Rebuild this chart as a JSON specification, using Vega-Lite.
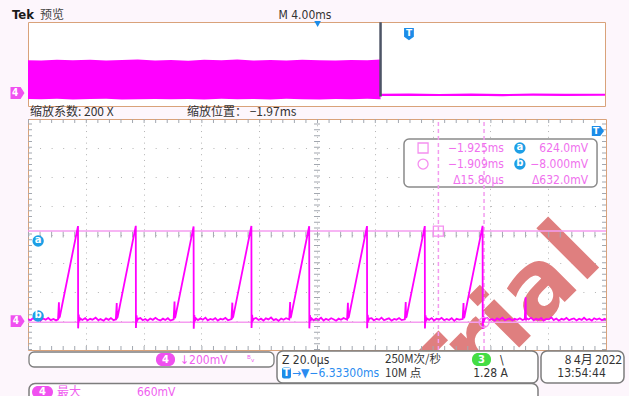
{
"$schema": "https://vega.github.io/schema/vega-lite/v6.json",
"autosize": {"type": "none"},
"padding": {"left": 28, "top": 22, "right": 601, "bottom": 374},
"background": "#fdf6fc",
"bounds": "flush",
"spacing": 13,
"config": {
  "axis": {"domain": false, "ticks": false, "labels": false, "title": null, "grid": false},
  "font": "Liberation Sans Narrow, DejaVu Sans Condensed, sans-serif"
},
"vconcat": [
{
  "width": 577, "height": 84,
  "view": {"fill": "white", "stroke": "#d9a27a", "strokeWidth": 1},
  "encoding": {
    "x": {"field": "t", "type": "quantitative", "scale": {"domain": [-26.41, 13.59], "nice": false, "zero": false}},
    "y": {"field": "v", "type": "quantitative", "scale": {"domain": [-200, 1400], "nice": false, "zero": false}}
  },
  "layer": [
    {"data": {"values": [
      {"t":-26.41,"v":672,"v2":-66},{"t":-25.5,"v":668,"v2":-72},{"t":-24.4,"v":679,"v2":-64},{"t":-23.3,"v":670,"v2":-75},
      {"t":-22.1,"v":683,"v2":-68},{"t":-21.0,"v":666,"v2":-62},{"t":-19.9,"v":675,"v2":-78},{"t":-18.8,"v":688,"v2":-70},
      {"t":-17.6,"v":669,"v2":-65},{"t":-16.5,"v":677,"v2":-73},{"t":-15.3,"v":664,"v2":-69},{"t":-14.2,"v":680,"v2":-76},
      {"t":-13.0,"v":671,"v2":-63},{"t":-11.9,"v":685,"v2":-71},{"t":-10.8,"v":667,"v2":-67},{"t":-9.6,"v":676,"v2":-74},
      {"t":-8.5,"v":669,"v2":-61},{"t":-7.4,"v":681,"v2":-70},{"t":-6.2,"v":672,"v2":-77},{"t":-5.1,"v":665,"v2":-66},
      {"t":-4.0,"v":678,"v2":-72},{"t":-2.9,"v":670,"v2":-64},{"t":-1.97,"v":684,"v2":-70}]},
     "mark": {"type": "area", "color": "#ff00ff", "opacity": 1},
     "encoding": {"y2": {"field": "v2"}}},
    {"data": {"values": [
      {"t":-1.97,"v":12},{"t":0.0,"v":18},{"t":2.1,"v":10},{"t":4.3,"v":16},{"t":6.5,"v":8},{"t":8.6,"v":15},{"t":10.8,"v":11},{"t":13.59,"v":14}]},
     "mark": {"type": "line", "color": "#ff00ff", "strokeWidth": 2.2}},
    {"data": {"values": [{"t": -1.97, "v": 1395, "v2": -20}]},
     "mark": {"type": "rule", "color": "#4d5566", "strokeWidth": 2.5},
     "encoding": {"y2": {"field": "v2"}}},
    {"data": {"values": [{"t": 0, "v": 1171}]},
     "mark": {"type": "point", "shape": "M -0.8 -1 L 0.8 -1 L 0.8 0.45 L 0 1 L -0.8 0.45 Z", "filled": true, "color": "#1c8ce8", "size": 150, "opacity": 1}},
    {"data": {"values": [{"t": 0, "v": 1190, "label": "T"}]},
     "mark": {"type": "text", "color": "white", "fontSize": 9, "fontWeight": "bold", "font": "DejaVu Sans"},
     "encoding": {"text": {"field": "label"}}},
    {"data": {"values": [{"t": -6.333, "v": 1362}]},
     "mark": {"type": "point", "shape": "triangle-down", "filled": true, "color": "#1c8ce8", "size": 45, "opacity": 1}},
    {"data": {"values": [{"t": -27.14, "v": 48}]},
     "mark": {"type": "point", "shape": "M -1 -0.85 L 0.45 -0.85 L 1 0 L 0.45 0.85 L -1 0.85 Z", "filled": true, "color": "#f050f0", "size": 196, "opacity": 1}},
    {"data": {"values": [{"t": -27.3, "v": 48, "label": "4"}]},
     "mark": {"type": "text", "color": "white", "fontSize": 10, "fontWeight": "bold"},
     "encoding": {"text": {"field": "label"}}},
    {"data": {"values": [{"t": -27.52, "v": 1530, "label": "Tek"}]},
     "mark": {"type": "text", "align": "left", "baseline": "middle", "color": "#1a1a1a", "fontSize": 13, "fontWeight": "bold"},
     "encoding": {"text": {"field": "label"}}},
    {"data": {"values": [{"t": -25.58, "v": 1530, "label": "预览"}]},
     "mark": {"type": "text", "align": "left", "baseline": "middle", "color": "#444444", "fontSize": 12, "font": "Noto Sans CJK SC"},
     "encoding": {"text": {"field": "label"}}},
    {"data": {"values": [{"t": -7.21, "v": 1539, "label": "M 4.00ms"}]},
     "mark": {"type": "text", "align": "center", "baseline": "middle", "color": "#333333", "fontSize": 12},
     "encoding": {"text": {"field": "label"}}},
    {"data": {"values": [{"t": -26.27, "v": -314, "label": "缩放系数: 200 X"}, {"t": -15.39, "v": -314, "label": "缩放位置： −1.97ms"}]},
     "mark": {"type": "text", "align": "left", "baseline": "middle", "color": "#333333", "fontSize": 12, "font": "Noto Sans CJK SC"},
     "encoding": {"text": {"field": "label"}}}
  ]
},
{
  "vconcat": [
  {
    "width": 578, "height": 231,
    "view": {"fill": "white", "stroke": "#d9a27a", "strokeWidth": 1},
    "encoding": {
      "x": {"field": "t", "type": "quantitative", "scale": {"domain": [-2067, -1867], "nice": false, "zero": false},
            "axis": {"grid": true, "values": [-2047,-2027,-2007,-1987,-1967,-1947,-1927,-1907,-1887], "gridDash": [1, 4.78], "gridColor": "#b4b4b4", "gridWidth": 1}},
      "y": {"field": "v", "type": "quantitative", "scale": {"domain": [-200, 1400], "nice": false, "zero": false},
            "axis": {"grid": true, "values": [0,200,400,600,800,1000,1200], "gridDash": [1, 10.56], "gridColor": "#b4b4b4", "gridWidth": 1}}
    },
    "layer": [
      {"data": {"values": [{"t": -1867.4, "v": 410, "label": "Trial"}]},
       "mark": {"type": "text", "align": "right", "baseline": "alphabetic", "angle": 315, "fontSize": 95, "fontWeight": "bold", "font": "DejaVu Sans", "color": "#df7f7f", "clip": true},
       "encoding": {"text": {"field": "label"}}},
      {"data": {"values": [{"t": -1967, "v": -200, "v2": 1400}]},
       "mark": {"type": "rule", "color": "#a3a8b0", "strokeWidth": 6, "strokeDash": [1, 4.78]},
       "encoding": {"y2": {"field": "v2"}}},
      {"data": {"values": [{"t": -2067, "v": -200, "v2": 1400}, {"t": -1867, "v": -200, "v2": 1400}]},
       "mark": {"type": "rule", "color": "#a3a8b0", "strokeWidth": 8, "strokeDash": [1, 4.78], "clip": true},
       "encoding": {"y2": {"field": "v2"}}},
      {"data": {"values": [{"t": -2067, "t2": -1867, "v": 600}]},
       "mark": {"type": "rule", "color": "#a3a8b0", "strokeWidth": 6, "strokeDash": [1, 10.56]},
       "encoding": {"x2": {"field": "t2"}}},
      {"data": {"values": [{"t": -2067, "t2": -1867, "v": 1400}, {"t": -2067, "t2": -1867, "v": -200}]},
       "mark": {"type": "rule", "color": "#a3a8b0", "strokeWidth": 8, "strokeDash": [1, 10.56], "clip": true},
       "encoding": {"x2": {"field": "t2"}}},
      {"data": {"values": [{"t": -2067, "t2": -1867, "v": 624}, {"t": -2067, "t2": -1867, "v": -8}]},
       "mark": {"type": "rule", "color": "#f59cf0", "strokeWidth": 1.5},
       "encoding": {"x2": {"field": "t2"}}},
      {"data": {"values": [{"t": -1936.9, "t2": -1870.1, "v": 1261, "v2": 929}]},
       "mark": {"type": "rect", "fill": "white", "stroke": "#8a8a8a", "strokeWidth": 1.5, "cornerRadius": 5},
       "encoding": {"x2": {"field": "t2"}, "y2": {"field": "v2"}}},
      {"data": {"values": [{"t": -1925, "v": -200, "v2": 1400}, {"t": -1909.2, "v": -200, "v2": 1400}]},
       "mark": {"type": "rule", "color": "#f39cef", "strokeWidth": 1.5, "strokeDash": [4, 3]},
       "encoding": {"y2": {"field": "v2"}}},
      {"data": {"values": [
        {"t":-2067.0,"v":14},{"t":-2066.2,"v":6},{"t":-2065.3,"v":20},{"t":-2064.4,"v":9},{"t":-2063.5,"v":16},{"t":-2062.7,"v":4},{"t":-2061.8,"v":18},{"t":-2060.9,"v":10},{"t":-2060.0,"v":22},{"t":-2059.1,"v":7},{"t":-2058.2,"v":15},{"t":-2057.3,"v":5},{"t":-2056.6,"v":12},
        {"t":-2056.3,"v":130},{"t":-2056.2,"v":25},{"t":-2056.0,"v":30},{"t":-2049.7,"v":658},{"t":-2049.65,"v":-50},{"t":-2049.45,"v":45},{"t":-2049.25,"v":0},{"t":-2048.9,"v":18},
        {"t":-2048.2,"v":8},{"t":-2047.2,"v":20},{"t":-2046.4,"v":5},{"t":-2045.5,"v":16},{"t":-2044.7,"v":10},{"t":-2043.6,"v":24},{"t":-2042.7,"v":6},{"t":-2041.9,"v":14},{"t":-2040.8,"v":3},{"t":-2040.0,"v":19},{"t":-2039.1,"v":9},{"t":-2038.3,"v":21},{"t":-2037.4,"v":7},{"t":-2036.6,"v":13},
        {"t":-2036.3,"v":125},{"t":-2036.2,"v":22},{"t":-2036.0,"v":28},{"t":-2029.7,"v":660},{"t":-2029.65,"v":-48},{"t":-2029.45,"v":40},{"t":-2029.25,"v":2},{"t":-2028.9,"v":16},
        {"t":-2028.1,"v":21},{"t":-2027.3,"v":6},{"t":-2026.4,"v":15},{"t":-2025.6,"v":3},{"t":-2024.7,"v":18},{"t":-2023.8,"v":9},{"t":-2022.9,"v":23},{"t":-2022.1,"v":11},{"t":-2021.2,"v":5},{"t":-2020.3,"v":17},{"t":-2019.5,"v":8},{"t":-2018.6,"v":20},{"t":-2017.7,"v":4},{"t":-2016.6,"v":12},
        {"t":-2016.3,"v":135},{"t":-2016.2,"v":20},{"t":-2016.0,"v":30},{"t":-2009.7,"v":656},{"t":-2009.65,"v":-52},{"t":-2009.45,"v":42},{"t":-2009.25,"v":0},{"t":-2008.9,"v":20},
        {"t":-2008.2,"v":7},{"t":-2007.3,"v":19},{"t":-2006.5,"v":10},{"t":-2005.6,"v":24},{"t":-2004.8,"v":5},{"t":-2003.9,"v":15},{"t":-2003.0,"v":9},{"t":-2002.2,"v":21},{"t":-2001.3,"v":4},{"t":-2000.4,"v":16},{"t":-1999.6,"v":11},{"t":-1998.7,"v":22},{"t":-1997.8,"v":6},{"t":-1996.6,"v":14},
        {"t":-1996.3,"v":128},{"t":-1996.2,"v":24},{"t":-1996.0,"v":29},{"t":-1989.7,"v":659},{"t":-1989.65,"v":-47},{"t":-1989.45,"v":44},{"t":-1989.25,"v":3},{"t":-1988.9,"v":15},
        {"t":-1988.1,"v":22},{"t":-1987.2,"v":8},{"t":-1986.4,"v":17},{"t":-1985.5,"v":4},{"t":-1984.7,"v":19},{"t":-1983.8,"v":12},{"t":-1982.9,"v":25},{"t":-1982.0,"v":7},{"t":-1981.2,"v":14},{"t":-1980.3,"v":2},{"t":-1979.4,"v":18},{"t":-1978.6,"v":9},{"t":-1977.7,"v":20},{"t":-1976.6,"v":11},
        {"t":-1976.3,"v":132},{"t":-1976.2,"v":21},{"t":-1976.0,"v":31},{"t":-1969.7,"v":657},{"t":-1969.65,"v":-50},{"t":-1969.45,"v":41},{"t":-1969.25,"v":1},{"t":-1968.9,"v":19},
        {"t":-1968.2,"v":6},{"t":-1967.3,"v":18},{"t":-1966.5,"v":10},{"t":-1965.6,"v":23},{"t":-1964.7,"v":4},{"t":-1963.9,"v":16},{"t":-1963.0,"v":8},{"t":-1962.1,"v":20},{"t":-1961.3,"v":13},{"t":-1960.4,"v":3},{"t":-1959.5,"v":17},{"t":-1958.7,"v":9},{"t":-1957.8,"v":22},{"t":-1956.6,"v":10},
        {"t":-1956.3,"v":127},{"t":-1956.2,"v":23},{"t":-1956.0,"v":28},{"t":-1949.7,"v":658},{"t":-1949.65,"v":-49},{"t":-1949.45,"v":43},{"t":-1949.25,"v":2},{"t":-1948.9,"v":17},
        {"t":-1948.1,"v":20},{"t":-1947.3,"v":5},{"t":-1946.4,"v":16},{"t":-1945.5,"v":9},{"t":-1944.7,"v":24},{"t":-1943.8,"v":6},{"t":-1942.9,"v":14},{"t":-1942.1,"v":19},{"t":-1941.2,"v":3},{"t":-1940.3,"v":15},{"t":-1939.5,"v":10},{"t":-1938.6,"v":21},{"t":-1937.7,"v":7},{"t":-1936.6,"v":13},
        {"t":-1936.3,"v":133},{"t":-1936.2,"v":22},{"t":-1936.0,"v":30},{"t":-1929.7,"v":658},{"t":-1929.65,"v":-51},{"t":-1929.45,"v":40},{"t":-1929.25,"v":0},{"t":-1928.9,"v":18},
        {"t":-1928.2,"v":9},{"t":-1927.3,"v":21},{"t":-1926.5,"v":4},{"t":-1925.6,"v":17},{"t":-1924.7,"v":11},{"t":-1923.9,"v":23},{"t":-1923.0,"v":6},{"t":-1922.1,"v":15},{"t":-1921.3,"v":8},{"t":-1920.4,"v":20},{"t":-1919.5,"v":2},{"t":-1918.7,"v":16},{"t":-1917.8,"v":10},{"t":-1916.6,"v":14},
        {"t":-1916.3,"v":126},{"t":-1916.2,"v":20},{"t":-1916.0,"v":29},{"t":-1909.7,"v":660},{"t":-1909.65,"v":-55},{"t":-1909.45,"v":38},{"t":-1909.25,"v":1},{"t":-1908.9,"v":17},
        {"t":-1908.1,"v":22},{"t":-1907.3,"v":7},{"t":-1906.4,"v":15},{"t":-1905.5,"v":4},{"t":-1904.7,"v":19},{"t":-1903.8,"v":10},{"t":-1902.9,"v":24},{"t":-1902.0,"v":6},{"t":-1901.2,"v":13},{"t":-1900.3,"v":18},{"t":-1899.4,"v":5},{"t":-1898.6,"v":16},{"t":-1897.7,"v":9},{"t":-1896.8,"v":20},{"t":-1895.9,"v":8},{"t":-1895.1,"v":14},
        {"t":-1894.8,"v":165},{"t":-1894.7,"v":5},{"t":-1894.5,"v":20},
        {"t":-1893.8,"v":11},{"t":-1892.9,"v":23},{"t":-1892.0,"v":6},{"t":-1891.2,"v":17},{"t":-1890.3,"v":9},{"t":-1889.4,"v":21},{"t":-1888.6,"v":4},{"t":-1887.7,"v":15},{"t":-1886.8,"v":12},{"t":-1885.9,"v":25},{"t":-1885.1,"v":7},{"t":-1884.2,"v":18},{"t":-1883.3,"v":3},{"t":-1882.4,"v":16},{"t":-1881.6,"v":10},{"t":-1880.7,"v":22},{"t":-1879.8,"v":6},{"t":-1878.9,"v":14},{"t":-1878.1,"v":19},{"t":-1877.2,"v":5},{"t":-1876.3,"v":17},{"t":-1875.4,"v":9},{"t":-1874.6,"v":23},{"t":-1873.7,"v":8},{"t":-1872.8,"v":15},{"t":-1871.9,"v":4},{"t":-1871.1,"v":20},{"t":-1870.2,"v":11},{"t":-1869.3,"v":18},{"t":-1868.4,"v":6},{"t":-1867.5,"v":16},{"t":-1867.0,"v":12}]},
       "mark": {"type": "line", "color": "#ff00ff", "strokeWidth": 1.8, "clip": true}},
      {"data": {"values": [{"t": -1925, "v": 624}, {"t": -1930.3, "v": 1199}]},
       "mark": {"type": "point", "shape": "square", "filled": false, "color": "#f590f0", "strokeWidth": 1.3, "size": 100, "opacity": 1}},
      {"data": {"values": [{"t": -1909.2, "v": -8}, {"t": -1930.3, "v": 1088}]},
       "mark": {"type": "point", "shape": "circle", "filled": false, "color": "#f590f0", "strokeWidth": 1.3, "size": 100, "opacity": 1}},
      {"data": {"values": [
         {"t": -1902.3, "v": 1199, "label": "−1.925ms"}, {"t": -1902.3, "v": 1088, "label": "−1.909ms"}, {"t": -1902.3, "v": 977, "label": "Δ15.80µs"},
         {"t": -1873.2, "v": 1199, "label": "624.0mV"}, {"t": -1873.2, "v": 1088, "label": "−8.000mV"}, {"t": -1873.2, "v": 977, "label": "Δ632.0mV"}]},
       "mark": {"type": "text", "align": "right", "baseline": "middle", "color": "#f070ee", "fontSize": 12},
       "encoding": {"text": {"field": "label"}}},
      {"data": {"values": [{"t": -1896.8, "v": 1199}, {"t": -1896.8, "v": 1088}, {"t": -2063.5, "v": 555}, {"t": -2063.5, "v": 35}]},
       "mark": {"type": "point", "shape": "circle", "filled": true, "color": "#1d9fe6", "size": 130, "opacity": 1}},
      {"data": {"values": [{"t": -1896.8, "v": 1205, "label": "a"}, {"t": -1896.8, "v": 1094, "label": "b"}, {"t": -2063.5, "v": 561, "label": "a"}, {"t": -2063.5, "v": 41, "label": "b"}]},
       "mark": {"type": "text", "align": "center", "baseline": "middle", "color": "white", "fontSize": 10, "fontWeight": "bold", "font": "DejaVu Sans"},
       "encoding": {"text": {"field": "label"}}},
      {"data": {"values": [{"t": -2070.6, "v": 0}]},
       "mark": {"type": "point", "shape": "M -1 -0.85 L 0.45 -0.85 L 1 0 L 0.45 0.85 L -1 0.85 Z", "filled": true, "color": "#f050f0", "size": 196, "opacity": 1}},
      {"data": {"values": [{"t": -2071.2, "v": 0, "label": "4"}]},
       "mark": {"type": "text", "color": "white", "fontSize": 10, "fontWeight": "bold"},
       "encoding": {"text": {"field": "label"}}},
      {"data": {"values": [{"t": -1869.8, "v": 1317}]},
       "mark": {"type": "point", "shape": "M -1 -0.8 L 0.4 -0.8 L 1 0 L 0.4 0.8 L -1 0.8 Z", "filled": true, "color": "#1c8ce8", "size": 150, "opacity": 1}},
      {"data": {"values": [{"t": -1870.4, "v": 1317, "label": "T"}]},
       "mark": {"type": "text", "color": "white", "fontSize": 9, "fontWeight": "bold", "font": "DejaVu Sans"},
       "encoding": {"text": {"field": "label"}}}
    ]
  },
  {
    "width": 597, "height": 45,
    "view": {"stroke": null},
    "encoding": {
      "x": {"field": "x", "type": "quantitative", "scale": {"domain": [0, 597], "nice": false, "zero": false}, "axis": null},
      "y": {"field": "y", "type": "quantitative", "scale": {"domain": [0, 45], "nice": false, "zero": false, "reverse": true}, "axis": null}
    },
    "layer": [
      {"data": {"values": [{"x": 1, "x2": 246, "y": 1, "y2": 16}]},
       "mark": {"type": "rect", "fill": "white", "stroke": "#7d7d7d", "strokeWidth": 1.3, "cornerRadius": 5},
       "encoding": {"x2": {"field": "x2"}, "y2": {"field": "y2"}}},
      {"data": {"values": [{"x": 249, "x2": 510, "y": 0, "y2": 32}, {"x": 513, "x2": 596, "y": 0, "y2": 32}, {"x": 1, "x2": 510, "y": 32.5, "y2": 62}]},
       "mark": {"type": "rect", "fill": "white", "stroke": "#7d7d7d", "strokeWidth": 1.5, "cornerRadius": 6, "clip": false},
       "encoding": {"x2": {"field": "x2"}, "y2": {"field": "y2"}}},
      {"data": {"values": [{"x": 128, "x2": 147, "y": 2, "y2": 15}, {"x": 4, "x2": 25, "y": 35, "y2": 47}]},
       "mark": {"type": "rect", "fill": "#f050f0", "cornerRadius": 6},
       "encoding": {"x2": {"field": "x2"}, "y2": {"field": "y2"}}},
      {"data": {"values": [{"x": 444, "x2": 463, "y": 2, "y2": 15}]},
       "mark": {"type": "rect", "fill": "#44dd44", "cornerRadius": 6},
       "encoding": {"x2": {"field": "x2"}, "y2": {"field": "y2"}}},
      {"data": {"values": [{"x": 254, "x2": 263, "y": 16.5, "y2": 27.5}]},
       "mark": {"type": "rect", "fill": "#1c8ce8", "cornerRadius": 2},
       "encoding": {"x2": {"field": "x2"}, "y2": {"field": "y2"}}},
      {"data": {"values": [{"x": 137.5, "y": 8.5, "label": "4"}, {"x": 14.5, "y": 41, "label": "4"}, {"x": 453.5, "y": 8.5, "label": "3"}, {"x": 258.5, "y": 22, "label": "T"}]},
       "mark": {"type": "text", "align": "center", "baseline": "middle", "color": "white", "fontSize": 10, "fontWeight": "bold", "font": "DejaVu Sans"},
       "encoding": {"text": {"field": "label"}}},
      {"data": {"values": [{"x": 152, "y": 9, "label": "↓200mV"}, {"x": 109, "y": 41, "label": "660mV"}]},
       "mark": {"type": "text", "align": "left", "baseline": "middle", "color": "#f060f0", "fontSize": 12},
       "encoding": {"text": {"field": "label"}}},
      {"data": {"values": [{"x": 219, "y": 8, "label": "ᴮᵥ"}]},
       "mark": {"type": "text", "align": "left", "baseline": "middle", "color": "#f060f0", "fontSize": 9, "font": "DejaVu Sans"},
       "encoding": {"text": {"field": "label"}}},
      {"data": {"values": [{"x": 29, "y": 41, "label": "最大"}]},
       "mark": {"type": "text", "align": "left", "baseline": "middle", "color": "#f060f0", "fontSize": 12, "font": "Noto Sans CJK SC"},
       "encoding": {"text": {"field": "label"}}},
      {"data": {"values": [{"x": 254, "y": 9, "label": "Z 20.0µs"}, {"x": 472, "y": 9, "label": "\\"}]},
       "mark": {"type": "text", "align": "left", "baseline": "middle", "color": "#333333", "fontSize": 12},
       "encoding": {"text": {"field": "label"}}},
      {"data": {"values": [{"x": 480, "y": 22, "label": "1.28 A"}]},
       "mark": {"type": "text", "align": "right", "baseline": "middle", "color": "#333333", "fontSize": 12},
       "encoding": {"text": {"field": "label"}}},
      {"data": {"values": [{"x": 553.5, "y": 22, "label": "13:54:44"}]},
       "mark": {"type": "text", "align": "center", "baseline": "middle", "color": "#333333", "fontSize": 12},
       "encoding": {"text": {"field": "label"}}},
      {"data": {"values": [{"x": 357, "y": 8.5, "label": "250M次/秒"}, {"x": 357, "y": 22.5, "label": "10M 点"}]},
       "mark": {"type": "text", "align": "left", "baseline": "middle", "color": "#333333", "fontSize": 11.5, "font": "Noto Sans CJK SC"},
       "encoding": {"text": {"field": "label"}}},
      {"data": {"values": [{"x": 594, "y": 9, "label": "8 4月 2022"}]},
       "mark": {"type": "text", "align": "right", "baseline": "middle", "color": "#333333", "fontSize": 12, "font": "Noto Sans CJK SC"},
       "encoding": {"text": {"field": "label"}}},
      {"data": {"values": [{"x": 264, "y": 22, "label": "→▼−6.33300ms"}]},
       "mark": {"type": "text", "align": "left", "baseline": "middle", "color": "#2b8cf0", "fontSize": 12},
       "encoding": {"text": {"field": "label"}}}
    ]
  }
  ],
  "spacing": 1,
  "bounds": "flush"
}
]
}
